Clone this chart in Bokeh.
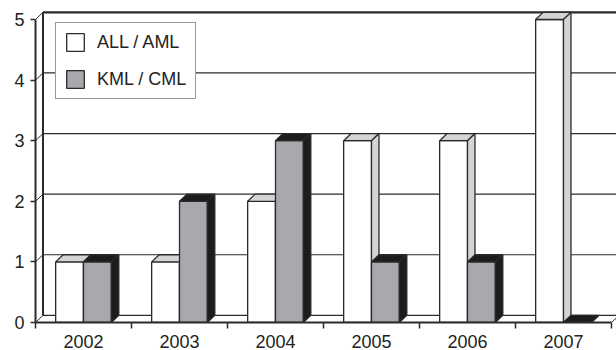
import numpy as np
from bokeh.plotting import figure
from bokeh.models import FixedTicker, Legend, LegendItem, Range1d
from bokeh.embed import file_html
from bokeh.resources import INLINE

# Cases per year
years = ["2002", "2003", "2004", "2005", "2006", "2007"]
all_aml = [1, 1, 2, 3, 3, 5]
kml_cml = [1, 2, 3, 1, 1, 0]
y_ticks = [0, 1, 2, 3, 4, 5]

# Pseudo-3D geometry in axis units (one category = 1.0, one case = 1.0)
DX = 0.078
DY = 0.118
WHITE_SLOT = (0.21, 0.50)
GRAY_SLOT = (0.50, 0.79)

EDGE = "#2a2a2a"
GRAY = "#a7a9ac"
LIGHT = "#d3d4d5"
DARK = "#1c1c1c"
FONT = "Liberation Sans"
FONT_SIZE = "18px"

n = len(years)
idx = np.arange(n)
y_max = max(y_ticks)

p = figure(width=616, height=350, output_backend="svg", toolbar_location=None,
           x_range=Range1d(0, 581 / 96), y_range=Range1d(0, 322 / 60.6),
           min_border_left=35, min_border_right=0, min_border_top=0,
           min_border_bottom=28)
p.xgrid.visible = False
p.ygrid.visible = False
p.outline_line_color = None
p.background_fill_color = "white"

# Walls and floor
p.segment(x0=[DX], y0=[DY], x1=[DX], y1=[y_max + DY], line_color=EDGE, line_width=2)
p.segment(x0=[0] * len(y_ticks), y0=y_ticks, x1=[DX] * len(y_ticks),
          y1=[v + DY for v in y_ticks], line_color=EDGE, line_width=1)
p.segment(x0=[DX] * len(y_ticks), y0=[v + DY for v in y_ticks],
          x1=[n + 1] * len(y_ticks), y1=[v + DY for v in y_ticks],
          line_color=EDGE, line_width=[1.2, 1.2, 1.2, 1.2, 1.2, 2.2])
p.segment(x0=[n], y0=[0], x1=[n + DX], y1=[DY], line_color=EDGE, line_width=1)


def faces(slot, values):
    x0 = idx + slot[0]
    x1 = idx + slot[1]
    tops_x, tops_y, sides_x, sides_y = [], [], [], []
    for a, b, h in zip(x0, x1, values):
        tops_x.append([a, b, b + DX, a + DX])
        tops_y.append([h, h, h + DY, h + DY])
        sides_x.append([b, b + DX, b + DX, b])
        sides_y.append([0, DY, h + DY, h])
    return x0, x1, tops_x, tops_y, sides_x, sides_y


def draw_series(slot, values, front, shade):
    x0, x1, tx, ty, sx, sy = faces(slot, values)
    r = p.quad(left=x0, right=x1, bottom=0, top=values, fill_color=front,
               line_color=EDGE, line_width=1.3)
    p.patches(xs=tx, ys=ty, fill_color=shade, line_color=EDGE, line_width=1.3)
    p.patches(xs=sx, ys=sy, fill_color=shade, line_color=EDGE, line_width=1.3)
    return r


r_white = draw_series(WHITE_SLOT, all_aml, "white", LIGHT)
r_gray = draw_series(GRAY_SLOT, kml_cml, GRAY, DARK)

# Axes
xa = p.xaxis[0]
xa.ticker = FixedTicker(ticks=list(idx + 0.5), minor_ticks=list(range(n + 1)))
xa.major_label_overrides = {float(i + 0.5): years[i] for i in range(n)}
xa.bounds = (0, n)
xa.major_tick_out = 0
xa.major_tick_in = 0
xa.minor_tick_out = 6
xa.minor_tick_in = 0
xa.minor_tick_line_color = EDGE
xa.minor_tick_line_width = 1.5
xa.axis_line_color = EDGE
xa.axis_line_width = 2
xa.major_label_standoff = 6

ya = p.yaxis[0]
ya.ticker = FixedTicker(ticks=y_ticks, minor_ticks=[])
ya.bounds = (0, y_max)
ya.major_tick_out = 5
ya.major_tick_in = 0
ya.major_tick_line_color = EDGE
ya.major_tick_line_width = 1.5
ya.axis_line_color = EDGE
ya.axis_line_width = 2
ya.major_label_standoff = 6

for ax in (xa, ya):
    ax.major_label_text_font = FONT
    ax.major_label_text_font_size = FONT_SIZE
    ax.major_label_text_color = "#222222"

legend = Legend(
    items=[LegendItem(label="ALL / AML", renderers=[r_white]),
           LegendItem(label="KML / CML", renderers=[r_gray])],
    location=(20, 223), orientation="vertical",
    glyph_width=22, glyph_height=22, label_standoff=11, padding=8, spacing=15,
    margin=0, label_width=90, label_height=22,
    border_line_color="#333333", border_line_width=1.5,
    background_fill_color="white", background_fill_alpha=1,
    label_text_font=FONT, label_text_font_size=FONT_SIZE, label_text_color="#222222")
p.add_layout(legend, "center")

open("out.html", "w").write(file_html(p, INLINE))
